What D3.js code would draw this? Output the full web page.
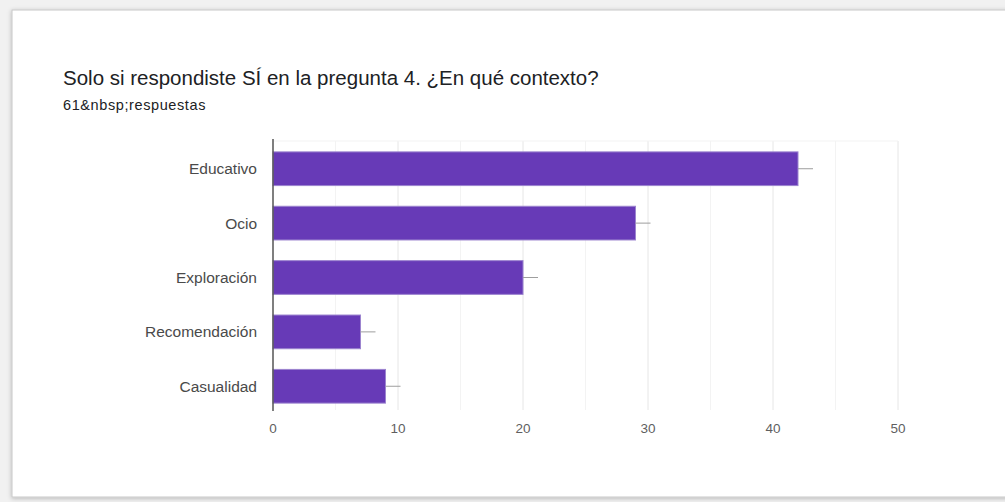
<!DOCTYPE html>
<html>
<head>
<meta charset="utf-8">
<script src="https://cdn.jsdelivr.net/npm/d3@7"></script>
<style>
  body { margin: 0; background: #fff; }
  svg { display: block; font-family: "Liberation Sans", Arial, sans-serif; }
</style>
</head>
<body>
<svg id="chart" width="1005" height="502"></svg>
<script>
// data
var categories = ["Educativo", "Ocio", "Exploración", "Recomendación", "Casualidad"];
var counts = [42, 29, 20, 7, 9];
var xTicks = [0, 10, 20, 30, 40, 50];
var minorTicks = [5, 15, 25, 35, 45];

var title = "Solo si respondiste SÍ en la pregunta 4. ¿En qué contexto?";
var subtitle = "61&nbsp;respuestas";

var svg = d3.select("#chart");

// card background with a soft border/shadow
var defs = svg.append("defs");
var f = defs.append("filter").attr("id", "shadow").attr("x", "-5%").attr("y", "-5%").attr("width", "110%").attr("height", "110%");
f.append("feDropShadow").attr("dx", 0).attr("dy", 1).attr("stdDeviation", 2).attr("flood-color", "#000").attr("flood-opacity", 0.25);

svg.append("rect").attr("width", 1005).attr("height", 502).attr("fill", "#f1f1f1");
svg.append("rect")
    .attr("x", 12).attr("y", 10)
    .attr("width", 1010).attr("height", 487)
    .attr("fill", "#fff")
    .attr("stroke", "#c8c8c8")
    .attr("filter", "url(#shadow)");

svg.append("text")
    .attr("x", 63).attr("y", 85)
    .attr("font-size", 20.5)
    .attr("fill", "#202124")
    .text(title);

svg.append("text")
    .attr("x", 63).attr("y", 110)
    .attr("font-size", 14.5)
    .attr("letter-spacing", 0.6)
    .attr("fill", "#202124")
    .text(subtitle);

// scales
var x = d3.scaleLinear().domain([0, 50]).range([273, 898]);
var y = d3.scaleBand().domain(categories).range([141, 414])
    .paddingInner(0.38).paddingOuter(0.2);

var plotTop = 141, plotBottom = 410;

// grid lines
svg.append("g").selectAll("line.minor")
    .data(minorTicks).enter()
    .append("line")
    .attr("x1", d => x(d)).attr("x2", d => x(d))
    .attr("y1", plotTop).attr("y2", plotBottom)
    .attr("stroke", "#f3f3f3");

svg.append("g").selectAll("line.major")
    .data(xTicks.slice(1)).enter()
    .append("line")
    .attr("x1", d => x(d)).attr("x2", d => x(d))
    .attr("y1", plotTop).attr("y2", plotBottom)
    .attr("stroke", "#e6e6e6");

svg.append("line")
    .attr("x1", x(0)).attr("x2", x(50))
    .attr("y1", plotTop).attr("y2", plotTop)
    .attr("stroke", "#f3f3f3");

// bars
svg.append("g").selectAll("rect")
    .data(categories).enter()
    .append("rect")
    .attr("x", x(0))
    .attr("y", d => y(d))
    .attr("width", (d, i) => x(counts[i]) - x(0))
    .attr("height", y.bandwidth())
    .attr("fill", "#673ab7")
    .attr("stroke", "#9c84cf")
    .attr("stroke-width", 1);

// little grey stubs after each bar
svg.append("g").selectAll("line")
    .data(categories).enter()
    .append("line")
    .attr("x1", (d, i) => x(counts[i]))
    .attr("x2", (d, i) => x(counts[i]) + 15)
    .attr("y1", d => y(d) + y.bandwidth() / 2)
    .attr("y2", d => y(d) + y.bandwidth() / 2)
    .attr("stroke", "#9e9e9e")
    .attr("stroke-width", 1);

// y axis line
svg.append("line")
    .attr("x1", x(0)).attr("x2", x(0))
    .attr("y1", plotTop - 2).attr("y2", plotBottom + 1)
    .attr("stroke", "#555")
    .attr("stroke-width", 1.5);

// category labels
svg.append("g").selectAll("text")
    .data(categories).enter()
    .append("text")
    .attr("x", 257)
    .attr("y", d => y(d) + y.bandwidth() / 2)
    .attr("dy", "0.35em")
    .attr("text-anchor", "end")
    .attr("font-size", 15.5)
    .attr("fill", "#4a4a4a")
    .text(d => d);

// x tick labels
svg.append("g").selectAll("text")
    .data(xTicks).enter()
    .append("text")
    .attr("x", d => x(d))
    .attr("y", 433)
    .attr("text-anchor", "middle")
    .attr("font-size", 13.5)
    .attr("fill", "#5f5f5f")
    .text(d => d);
</script>
</body>
</html>
